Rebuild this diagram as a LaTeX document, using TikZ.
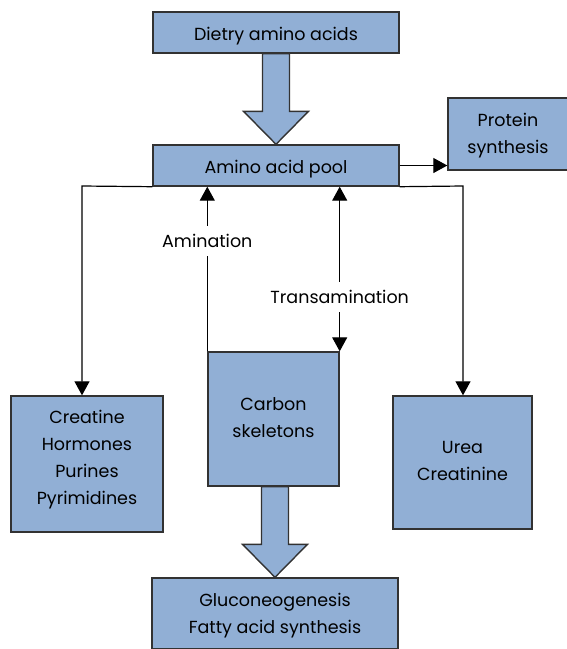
\documentclass[tikz,border=0pt]{standalone}
\usepackage{fontspec}
\setmainfont{Poppins}
\usetikzlibrary{arrows.meta,calc}
\definecolor{boxblue}{RGB}{145,175,213}
\definecolor{edgegray}{RGB}{50,50,50}
\begin{document}
\begin{tikzpicture}[x=1pt,y=-1pt,line width=1.2pt,line join=miter,
  box/.style={draw=edgegray,fill=boxblue,line width=1.4pt,inner sep=0pt,align=center,text depth=0pt,font=\fontsize{17.5}{27}\selectfont},
  blk/.style={draw=edgegray,fill=boxblue,line width=1.4pt},
  tip/.style={-{Triangle[length=14pt,width=15pt]}},
  lbl/.style={fill=white,inner xsep=2pt,inner ysep=8pt,font=\fontsize{17.5}{20}\selectfont}]
\path[use as bounding box] (0,0) rectangle (566,649);
% Boxes; centres and sizes taken from the layout grid.
\node[box,minimum width=246pt,minimum height=41pt,text height=16pt] (diet) at (276,32.5) {Dietry amino acids};
\node[box,minimum width=246pt,minimum height=41pt,text height=15pt] (pool) at (276,165.5) {Amino acid pool};
\node[box,minimum width=120pt,minimum height=72pt,text height=38pt] (prot) at (508,134) {Protein\\synthesis};
\node[box,minimum width=152pt,minimum height=136pt,text height=80pt] (creat) at (87,464) {Creatine\\Hormones\\Purines\\Pyrimidines};
\node[box,minimum width=131pt,minimum height=134pt,text height=36pt] (carb) at (273.5,419) {Carbon\\skeletons};
\node[box,minimum width=139pt,minimum height=133pt,text height=35pt] (urea) at (462.5,462.5) {Urea\\Creatinine};
\node[box,minimum width=246pt,minimum height=71pt,text height=39pt] (gluco) at (275,613.5) {Gluconeogenesis\\Fatty acid synthesis};
% Block arrow: dietry intake into the pool.
\draw[blk] ($(diet.south)+(-13.5,0)$) -- ($(pool.north)+(-13.5,-33)$) -- ($(pool.north)+(-32.5,-33)$)
  -- (pool.north) -- ($(pool.north)+(32.5,-33)$) -- ($(pool.north)+(13.5,-33)$) -- ($(diet.south)+(13.5,0)$) -- cycle;
% Block arrow: carbon skeletons to gluconeogenesis.
\draw[blk] ($(carb.south -| gluco.north)+(-13.5,0)$) -- ($(gluco.north)+(-13.5,-33)$) -- ($(gluco.north)+(-32.5,-33)$)
  -- (gluco.north) -- ($(gluco.north)+(32.5,-33)$) -- ($(gluco.north)+(13.5,-33)$) -- ($(carb.south -| gluco.north)+(13.5,0)$) -- cycle;
% Pool to protein synthesis.
\draw[tip] (pool.east) -- (pool.east -| prot.west);
% Pool down to the side products.
\coordinate (lft) at (82,186);
\coordinate (rgt) at (463,186);
\draw[tip] (pool.south west) -- (lft) -- (creat.north -| lft);
\draw[tip] (pool.south east) -- (rgt) -- (urea.north -| rgt);
% Amination and transamination.
\draw[tip] (carb.north west) -- (carb.north west |- pool.south) node[lbl,pos=0.67] {Amination};
\draw[{Triangle[length=14pt,width=15pt]}-{Triangle[length=14pt,width=15pt]}] (carb.north east |- pool.south) -- (carb.north east) node[lbl,pos=0.67] {Transamination};
\end{tikzpicture}
\end{document}
